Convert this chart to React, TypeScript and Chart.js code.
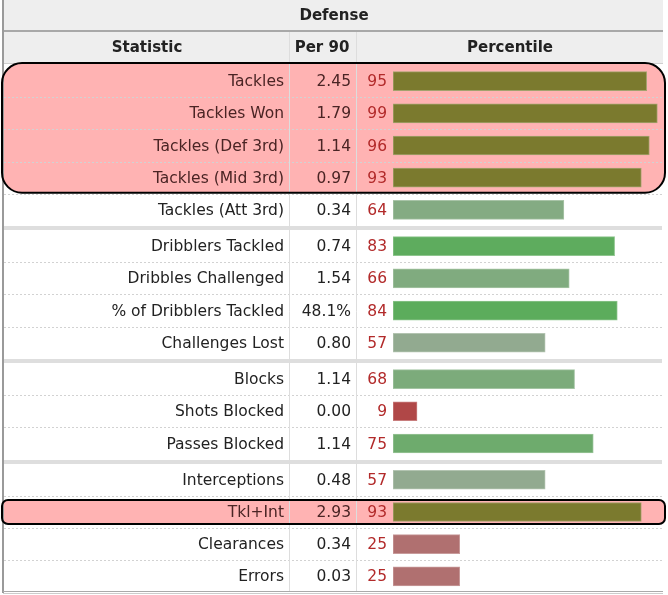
import React, { useEffect, useRef } from "react";
import { Chart, registerables } from "chart.js";

Chart.register(...registerables);

const title = "Defense";
const headers = ["Statistic", "Per 90", "Percentile"];
const stats = [
  "Tackles",
  "Tackles Won",
  "Tackles (Def 3rd)",
  "Tackles (Mid 3rd)",
  "Tackles (Att 3rd)",
  "Dribblers Tackled",
  "Dribbles Challenged",
  "% of Dribblers Tackled",
  "Challenges Lost",
  "Blocks",
  "Shots Blocked",
  "Passes Blocked",
  "Interceptions",
  "Tkl+Int",
  "Clearances",
  "Errors",
];
const per90 = ["2.45", "1.79", "1.14", "0.97", "0.34", "0.74", "1.54", "48.1%", "0.80", "1.14", "0.00", "1.14", "0.48", "2.93", "0.34", "0.03"];
const percentiles = [95, 99, 96, 93, 64, 83, 66, 84, 57, 68, 9, 75, 57, 93, 25, 25];
const groups = [0, 0, 0, 0, 0, 1, 1, 1, 1, 2, 2, 2, 3, 3, 3, 3];
const highlightBlocks = [
  [0, 3],
  [13, 13],
];

const GAP = 0.127;
const positions = stats.map((_, i) => i + groups[i] * GAP);
const FONT = '"DejaVu Sans", Verdana, sans-serif';

function mix(a: number[], b: number[], t: number) {
  return a.map((v, k) => Math.round(v + (b[k] - v) * t));
}
function rgb(c: number[]) {
  return `rgb(${c[0]},${c[1]},${c[2]})`;
}
function pctColorArr(p: number): number[] {
  if (p >= 90) return [123, 122, 46];
  if (p >= 50) {
    const t = Math.min(1, Math.max(0, (p - 50) / 36));
    return mix([160, 170, 158], [88, 172, 88], t);
  }
  const t = Math.min(1, Math.max(0, (p - 8) / 17));
  return mix([176, 68, 68], [176, 112, 112], t);
}

const isHighlighted = (i: number) => highlightBlocks.some(([a, b]) => i >= a && i <= b);

const tablePlugin = {
  id: "tableDecor",
  beforeDatasetsDraw(chart: any) {
    const { ctx } = chart;
    const ys = chart.scales.y;
    const px = (i: number) => ys.getPixelForValue(positions[i]);
    const half = (ys.getPixelForValue(1) - ys.getPixelForValue(0)) / 2;
    const L = 3;
    const R = 663;
    ctx.save();
    // header rows
    ctx.fillStyle = "#eeeeee";
    ctx.fillRect(L, 0, R - L, 30);
    ctx.fillStyle = "#a8a8a8";
    ctx.fillRect(L, 30, R - L, 2);
    ctx.fillStyle = "#eeeeee";
    ctx.fillRect(L, 32, R - L, 31);
    ctx.fillStyle = "#cfcfcf";
    ctx.fillRect(L, 63, R - L, 1);

    ctx.fillStyle = "#222";
    ctx.font = `bold 15px ${FONT}`;
    ctx.textAlign = "center";
    ctx.textBaseline = "middle";
    ctx.fillText(title, 334, 16);
    ctx.fillText(headers[0], 147, 48);
    ctx.fillText(headers[1], 322, 48);
    ctx.fillText(headers[2], 510, 48);

    // highlight fills
    const boxes = highlightBlocks.map(([a, b]) => {
      const single = a === b;
      const top = single ? px(a) - 12 : px(a) - 18;
      const bottom = single ? px(b) + 12 : px(b) + 15;
      return { top, bottom, r: single ? 6 : 20 };
    });
    ctx.fillStyle = "#ffb3b3";
    boxes.forEach((bx) => {
      ctx.beginPath();
      ctx.roundRect(2, bx.top, 663, bx.bottom - bx.top, bx.r);
      ctx.fill();
    });

    // row separators
    for (let i = 0; i < stats.length - 1; i++) {
      const yb = px(i) + half;
      if (groups[i] === groups[i + 1]) {
        ctx.strokeStyle = "#d2d2d2";
        ctx.lineWidth = 1;
        ctx.setLineDash([2, 2]);
        ctx.beginPath();
        ctx.moveTo(4, Math.round(yb) + 0.5);
        ctx.lineTo(662, Math.round(yb) + 0.5);
        ctx.stroke();
        ctx.setLineDash([]);
      } else {
        const yn = px(i + 1) - half;
        ctx.fillStyle = "#dedede";
        ctx.fillRect(4, Math.round(yb), 658, Math.max(3, Math.round(yn - yb)));
      }
    }

    // column lines
    ctx.strokeStyle = "#dddddd";
    ctx.lineWidth = 1;
    [289.5, 356.5].forEach((x) => {
      ctx.beginPath();
      ctx.moveTo(x, 32);
      ctx.lineTo(x, 591);
      ctx.stroke();
    });

    // outer borders
    ctx.fillStyle = "#9a9a9a";
    ctx.fillRect(2, 0, 2, 593);
    ctx.fillStyle = "#aaaaaa";
    ctx.fillRect(L, 591, R - L, 1);
    ctx.fillStyle = "#cccccc";
    ctx.fillRect(L, 593, R - L, 1);

    // highlight box strokes
    ctx.strokeStyle = "#000";
    ctx.lineWidth = 2;
    boxes.forEach((bx) => {
      ctx.beginPath();
      ctx.roundRect(2, bx.top, 663, bx.bottom - bx.top, bx.r);
      ctx.stroke();
    });
    ctx.restore();
  },
  afterDatasetsDraw(chart: any) {
    const { ctx } = chart;
    const ys = chart.scales.y;
    ctx.save();
    ctx.font = `15.5px ${FONT}`;
    ctx.textBaseline = "middle";
    ctx.textAlign = "right";
    stats.forEach((name, i) => {
      const y = ys.getPixelForValue(positions[i]) + 1;
      const hl = isHighlighted(i);
      ctx.fillStyle = hl ? "#4a2424" : "#222";
      ctx.fillText(name, 284, y);
      ctx.fillText(per90[i], 351, y);
      ctx.fillStyle = "#b22a2a";
      ctx.fillText(String(percentiles[i]), 387, y);
    });
    ctx.restore();
  },
};

export default function App() {
  const ref = useRef<HTMLCanvasElement | null>(null);
  useEffect(() => {
    if (!ref.current) return;
    const yMax = positions[positions.length - 1] + 0.5;
    const chart = new Chart(ref.current, {
      type: "bar",
      data: {
        datasets: [
          {
            data: percentiles.map((p, i) => ({ x: p, y: positions[i] })),
            backgroundColor: percentiles.map((p) => rgb(pctColorArr(p))),
            borderColor: percentiles.map((p) => rgb(mix(pctColorArr(p), [255, 255, 255], 0.3))),
            borderWidth: 1,
            borderSkipped: false,
            barThickness: 19,
          } as any,
        ],
      },
      options: {
        indexAxis: "y",
        animation: false,
        responsive: false,
        devicePixelRatio: 1,
        layout: { padding: { left: 393, right: 8, top: 65, bottom: 595 - 65 - (yMax + 0.5) * 32.2 } },
        scales: {
          x: { type: "linear", min: 0, max: 100, display: false, offset: false },
          y: { type: "linear", min: -0.5, max: yMax, reverse: true, display: false, offset: false, grace: 0 },
        },
        plugins: { legend: { display: false }, tooltip: { enabled: false } },
      },
      plugins: [tablePlugin],
    });
    return () => chart.destroy();
  }, []);
  return (
    <div style={{ position: "absolute", left: 0, top: 0, width: 668, height: 595, background: "#fff" }}>
      <canvas ref={ref} width={668} height={595} style={{ width: 668, height: 595, display: "block" }} />
    </div>
  );
}
